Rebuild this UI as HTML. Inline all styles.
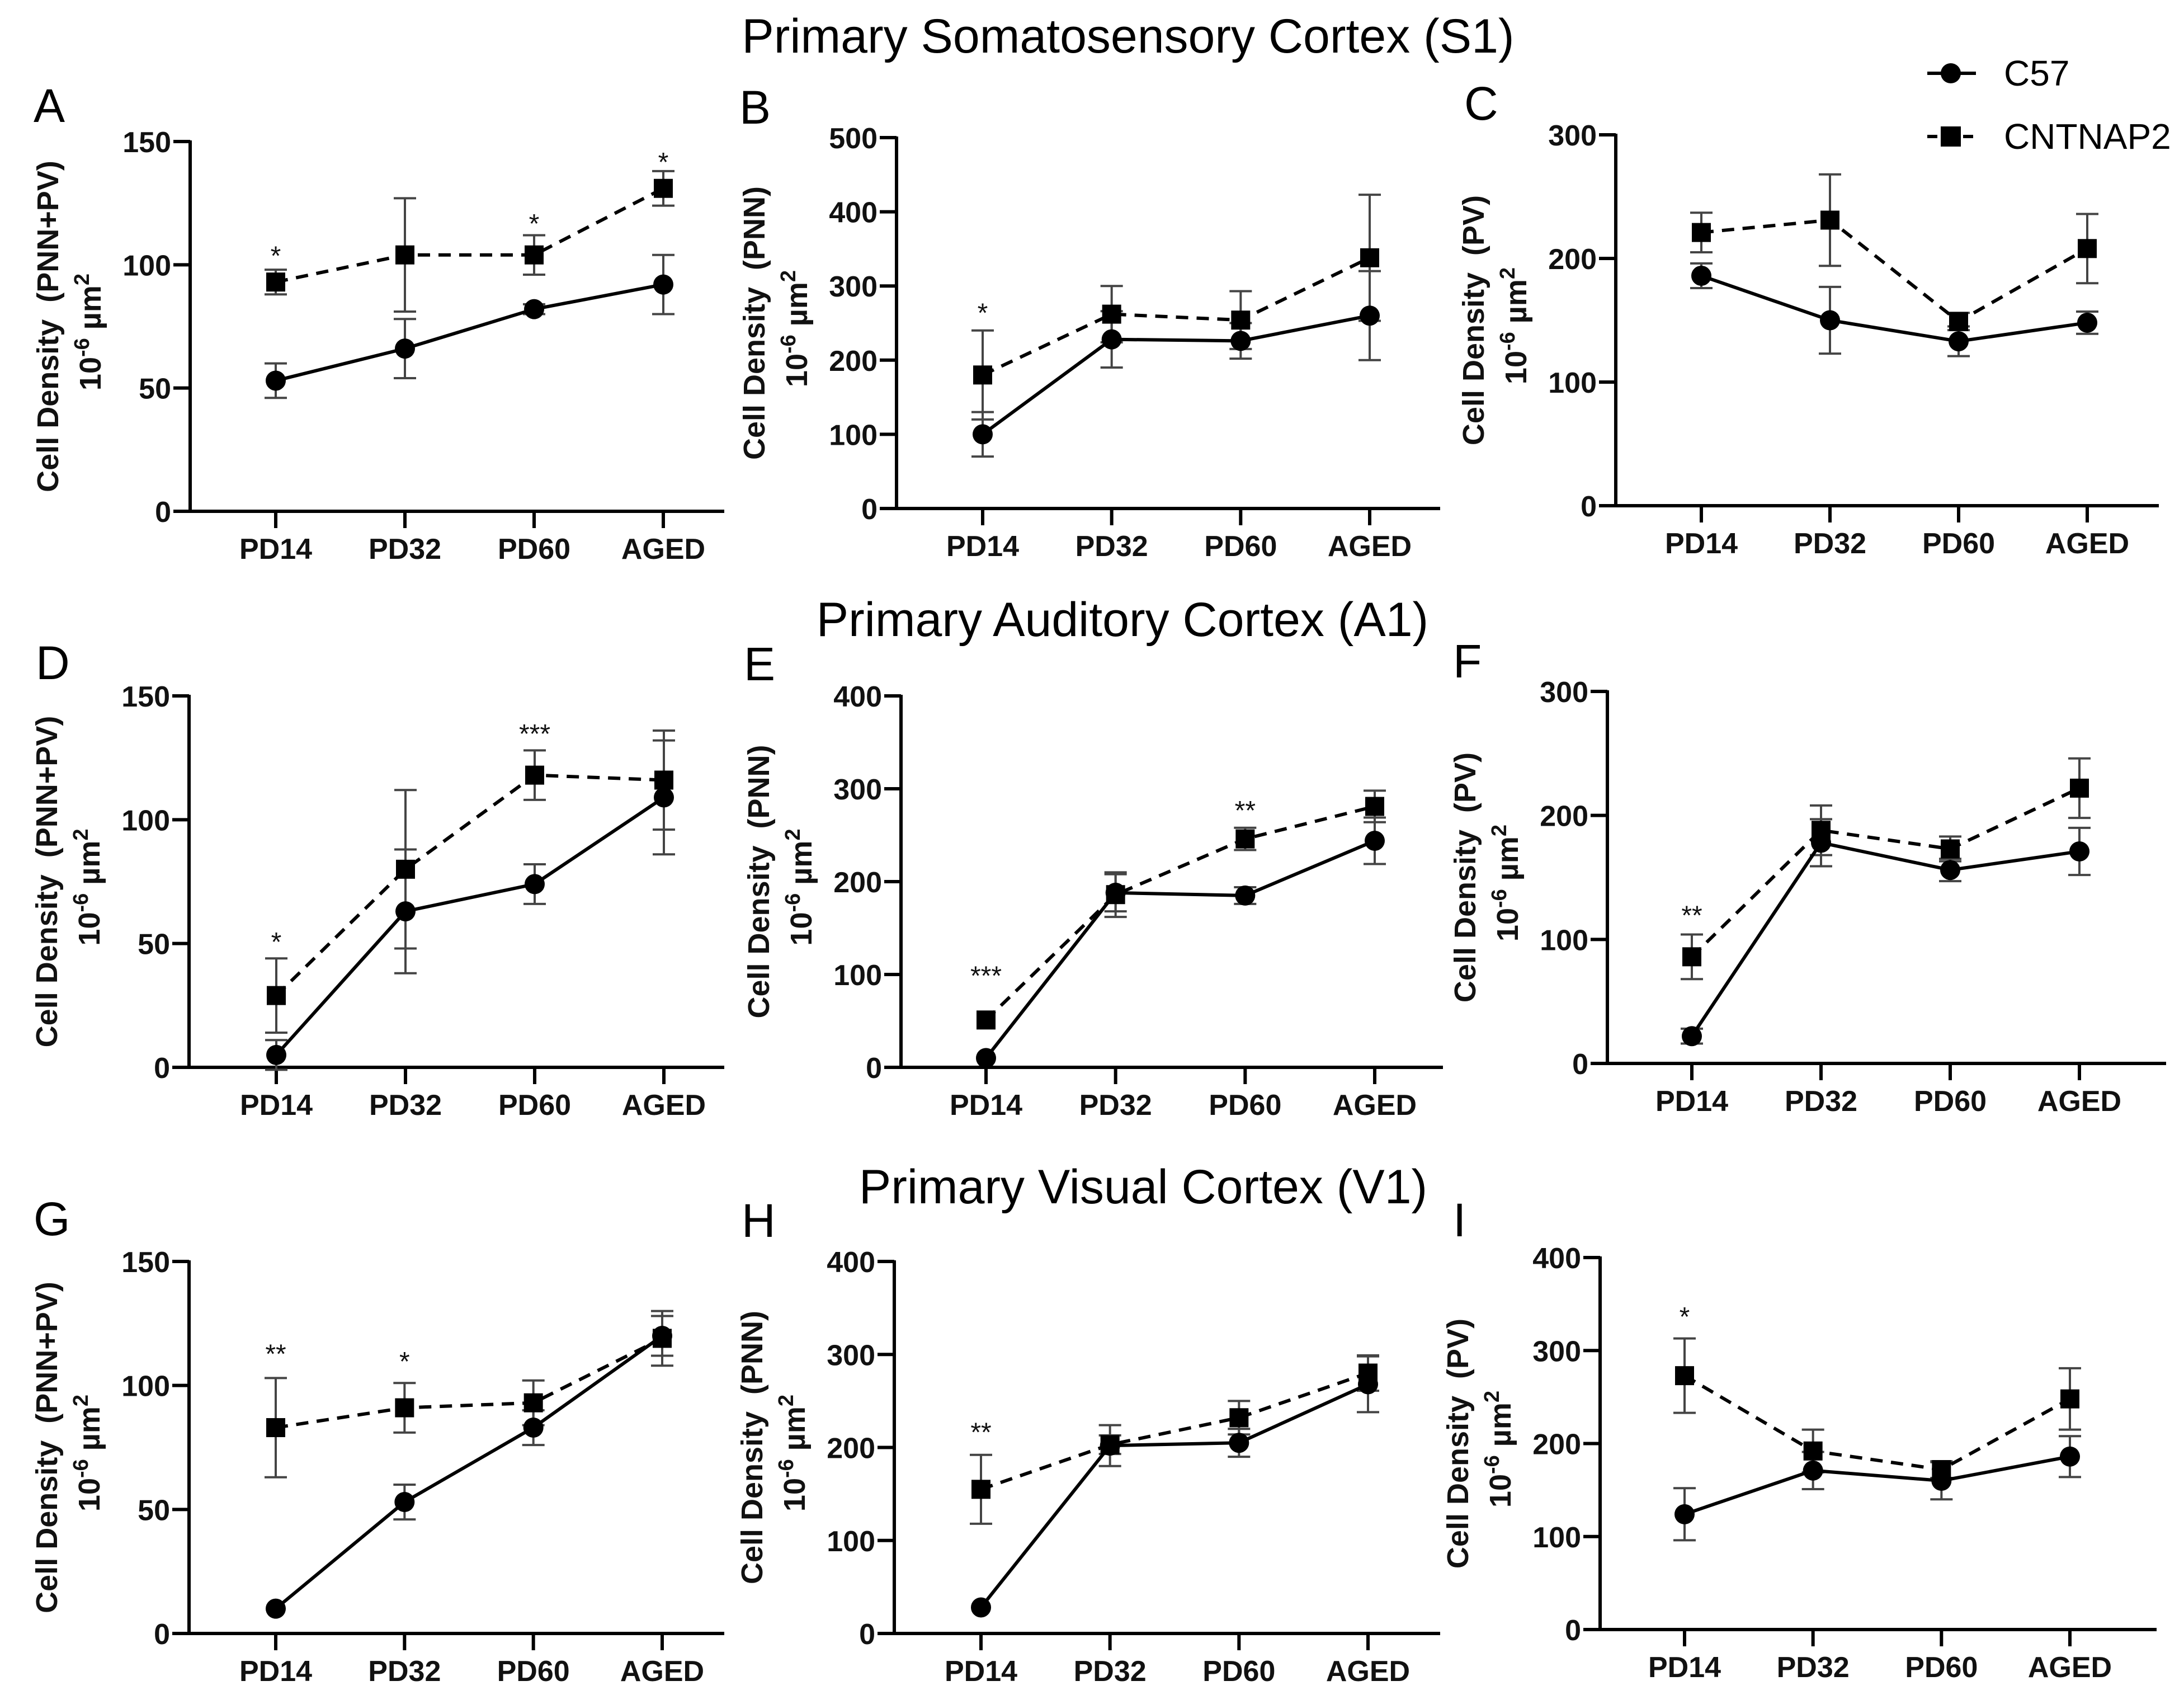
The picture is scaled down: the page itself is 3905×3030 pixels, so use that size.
<!DOCTYPE html>
<html><head><meta charset="utf-8">
<style>
html,body{margin:0;padding:0;background:#fff;}
svg{display:block;font-family:"Liberation Sans",Arial,sans-serif;}
</style></head>
<body>
<svg id="fig" width="3905" height="3030" viewBox="0 0 3905 3030" xmlns="http://www.w3.org/2000/svg">
  <rect width="3905" height="3030" fill="#fff"/>
  <text x="2017" y="94" font-size="86" text-anchor="middle">Primary Somatosensory Cortex (S1)</text>
  <text x="2007" y="1137" font-size="86" text-anchor="middle">Primary Auditory Cortex (A1)</text>
  <text x="2044" y="2151" font-size="86" text-anchor="middle">Primary Visual Cortex (V1)</text>
  <g>
    <line x1="3446" y1="131" x2="3533" y2="131" stroke="#000" stroke-width="6"/>
    <circle cx="3488" cy="131" r="18" fill="#000"/>
    <text x="3583" y="153" font-size="64">C57</text>
    <line x1="3446" y1="244" x2="3533" y2="244" stroke="#000" stroke-width="6" stroke-dasharray="18 14"/>
    <rect x="3470" y="226" width="36" height="36" fill="#000"/>
    <text x="3583" y="266" font-size="64">CNTNAP2</text>
  </g>
</svg>
<script>
const categories = ['PD14','PD32','PD60','AGED'];

const aC57 = [53, 66, 82, 92];
const aC57Err = [7, 12, 2, 12];
const aCnt = [93, 104, 104, 131];
const aCntErr = [5, 23, 8, 7];
const aStars = ['*', '', '*', '*'];
const aStarY = [105, 0, 118, 143];

const bC57 = [100, 228, 226, 260];
const bC57Err = [30, 38, 24, 60];
const bCnt = [180, 262, 254, 338];
const bCntErr = [60, 38, 39, 85];
const bStars = ['*', '', '', ''];
const bStarY = [268, 0, 0, 0];

const cC57 = [186, 150, 133, 148];
const cC57Err = [10, 27, 12, 9];
const cCnt = [221, 231, 149, 208];
const cCntErr = [16, 37, 7, 28];
const cStars = ['', '', '', ''];
const cStarY = [0, 0, 0, 0];

const dC57 = [5, 63, 74, 109];
const dC57Err = [6, 25, 8, 23];
const dCnt = [29, 80, 118, 116];
const dCntErr = [15, 32, 10, 20];
const dStars = ['*', '', '***', ''];
const dStarY = [52, 0, 136, 0];

const eC57 = [10, 188, 185, 244];
const eC57Err = [0, 20, 9, 25];
const eCnt = [51, 186, 246, 281];
const eCntErr = [0, 24, 12, 17];
const eStars = ['***', '', '**', ''];
const eStarY = [102, 0, 280, 0];

const fC57 = [22, 178, 156, 171];
const fC57Err = [6, 19, 9, 19];
const fCnt = [86, 188, 173, 222];
const fCntErr = [18, 20, 10, 24];
const fStars = ['**', '', '', ''];
const fStarY = [122, 0, 0, 0];

const gC57 = [10, 53, 83, 120];
const gC57Err = [0, 7, 7, 8];
const gCnt = [83, 91, 93, 119];
const gCntErr = [20, 10, 9, 11];
const gStars = ['**', '*', '', ''];
const gStarY = [114, 111, 0, 0];

const hC57 = [28, 202, 205, 268];
const hC57Err = [0, 22, 15, 30];
const hCnt = [155, 203, 232, 280];
const hCntErr = [37, 10, 18, 19];
const hStars = ['**', '', '', ''];
const hStarY = [220, 0, 0, 0];

const iC57 = [124, 171, 160, 186];
const iC57Err = [28, 20, 20, 22];
const iCnt = [273, 192, 172, 248];
const iCntErr = [40, 23, 9, 33];
const iStars = ['*', '', '', ''];
const iStarY = [340, 0, 0, 0];

const ticks150 = [0, 50, 100, 150];
const ticks500 = [0, 100, 200, 300, 400, 500];
const ticks400 = [0, 100, 200, 300, 400];
const ticks300 = [0, 100, 200, 300];

const NS = 'http://www.w3.org/2000/svg';
const svg = document.getElementById('fig');
function mk(tag, attrs, parent) {
  const e = document.createElementNS(NS, tag);
  for (const k in attrs) e.setAttribute(k, attrs[k]);
  (parent || svg).appendChild(e);
  return e;
}

function panel(id, letter, lay, ticks, yLabelName, c57, c57Err, cnt, cntErr, stars, starY) {
  const g = mk('g', {});
  
  
  const yMax = ticks[ticks.length - 1];
  const yS = v => lay.y0 - (v / yMax) * (lay.y0 - lay.top);
  const step = (lay.c3 - lay.c0) / 3;
  const xS = i => lay.c0 + i * step;

  const L = mk('text', {x: lay.lx, y: lay.ly, 'font-size': 84}, g);
  L.textContent = letter;
  
  

  const ya = mk('line', {x1: lay.ax, y1: lay.top - 2, x2: lay.ax, y2: lay.y0 + 3, stroke: '#000', 'stroke-width': 6}, g);
  
  
  const xa = mk('line', {x1: lay.ax - 30, y1: lay.y0, x2: lay.xEnd, y2: lay.y0, stroke: '#000', 'stroke-width': 6}, g);
  
  

  ticks.forEach(t => {
    const y = yS(t);
    mk('line', {x1: lay.ax - 30, y1: y, x2: lay.ax, y2: y, stroke: '#000', 'stroke-width': 6}, g);
    const tl = mk('text', {x: lay.ax - 34, y: y + 19, 'font-size': 52, 'font-weight': 'bold', 'text-anchor': 'end', fill: '#111'}, g);
    tl.textContent = t;
    
    
  });
  categories.forEach((c, i) => {
    const x = xS(i);
    mk('line', {x1: x, y1: lay.y0, x2: x, y2: lay.y0 + 30, stroke: '#000', 'stroke-width': 6}, g);
    const cl = mk('text', {x: x, y: lay.y0 + 85, 'font-size': 52, 'font-weight': 'bold', 'text-anchor': 'middle', fill: '#111'}, g);
    cl.textContent = c;
    
    
  });

  const cy = (lay.top + lay.y0) / 2;
  const t1 = mk('text', {x: lay.ax - 236, y: cy, 'font-size': 54, 'font-weight': 'bold', 'text-anchor': 'middle', transform: 'rotate(-90 ' + (lay.ax - 236) + ' ' + cy + ')', fill: '#111'}, g);
  t1.textContent = 'Cell Density \u00A0(' + yLabelName + ')';
  
  
  const t2 = mk('text', {x: lay.ax - 160, y: cy + 10, 'font-size': 54, 'font-weight': 'bold', 'text-anchor': 'middle', transform: 'rotate(-90 ' + (lay.ax - 160) + ' ' + (cy + 10) + ')', fill: '#111'}, g);
  
  
  t2.appendChild(document.createTextNode('10'));
  const s1 = mk('tspan', {'baseline-shift': 'super', 'font-size': 38}, t2); s1.textContent = '-6';
  t2.appendChild(document.createTextNode(' µm'));
  const s2 = mk('tspan', {'baseline-shift': 'super', 'font-size': 38}, t2); s2.textContent = '2';

  function errs(vals, es, nm) {
    vals.forEach((v, i) => {
      if (!es[i]) return;
      const x = xS(i), y1 = yS(v - es[i]), y2 = yS(v + es[i]);
      const eg = mk('g', {stroke: '#444', 'stroke-width': 4}, g);
      
      
      mk('line', {x1: x, y1: y1, x2: x, y2: y2}, eg);
      mk('line', {x1: x - 20, y1: y1, x2: x + 20, y2: y1}, eg);
      mk('line', {x1: x - 20, y1: y2, x2: x + 20, y2: y2}, eg);
    });
  }
  errs(c57, c57Err, 'c57');
  errs(cnt, cntErr, 'cntnap2');

  const p1 = mk('polyline', {points: c57.map((v, i) => xS(i) + ',' + yS(v)).join(' '), fill: 'none', stroke: '#000', 'stroke-width': 6}, g);
  
  
  const p2 = mk('polyline', {points: cnt.map((v, i) => xS(i) + ',' + yS(v)).join(' '), fill: 'none', stroke: '#000', 'stroke-width': 6, 'stroke-dasharray': '22 15'}, g);
  
  

  c57.forEach((v, i) => {
    const c = mk('circle', {cx: xS(i), cy: yS(v), r: 18, fill: '#000'}, g);
    
    
  });
  cnt.forEach((v, i) => {
    const r = mk('rect', {x: xS(i) - 17, y: yS(v) - 17, width: 34, height: 34, fill: '#000'}, g);
    
    
  });
  stars.forEach((s, i) => {
    if (!s) return;
    const st = mk('text', {x: xS(i), y: yS(starY[i]) + 22, 'font-size': 48, 'text-anchor': 'middle', fill: '#111'}, g);
    st.textContent = s;
    
    
  });
}

panel('a', 'A', {ax: 340, top: 253, y0: 914, c0: 493, c3: 1186, xEnd: 1295, lx: 60, ly: 218}, ticks150, 'PNN+PV', aC57, aC57Err, aCnt, aCntErr, aStars, aStarY);
panel('b', 'B', {ax: 1603, top: 246, y0: 909, c0: 1757, c3: 2449, xEnd: 2575, lx: 1322, ly: 221}, ticks500, 'PNN', bC57, bC57Err, bCnt, bCntErr, bStars, bStarY);
panel('c', 'C', {ax: 2889, top: 241, y0: 904, c0: 3042, c3: 3732, xEnd: 3860, lx: 2618, ly: 214}, ticks300, 'PV', cC57, cC57Err, cCnt, cCntErr, cStars, cStarY);
panel('d', 'D', {ax: 338, top: 1244, y0: 1908, c0: 494, c3: 1187, xEnd: 1295, lx: 64, ly: 1214}, ticks150, 'PNN+PV', dC57, dC57Err, dCnt, dCntErr, dStars, dStarY);
panel('e', 'E', {ax: 1611, top: 1244, y0: 1908, c0: 1763, c3: 2458, xEnd: 2580, lx: 1330, ly: 1216}, ticks400, 'PNN', eC57, eC57Err, eCnt, eCntErr, eStars, eStarY);
panel('f', 'F', {ax: 2874, top: 1236, y0: 1901, c0: 3025, c3: 3718, xEnd: 3873, lx: 2598, ly: 1211}, ticks300, 'PV', fC57, fC57Err, fCnt, fCntErr, fStars, fStarY);
panel('g', 'G', {ax: 338, top: 2255, y0: 2920, c0: 493, c3: 1184, xEnd: 1295, lx: 60, ly: 2208}, ticks150, 'PNN+PV', gC57, gC57Err, gCnt, gCntErr, gStars, gStarY);
panel('h', 'H', {ax: 1599, top: 2255, y0: 2920, c0: 1754, c3: 2446, xEnd: 2575, lx: 1326, ly: 2211}, ticks400, 'PNN', hC57, hC57Err, hCnt, hCntErr, hStars, hStarY);
panel('i', 'I', {ax: 2861, top: 2248, y0: 2913, c0: 3012, c3: 3701, xEnd: 3856, lx: 2598, ly: 2210}, ticks400, 'PV', iC57, iC57Err, iCnt, iCntErr, iStars, iStarY);
</script>
</body></html>
